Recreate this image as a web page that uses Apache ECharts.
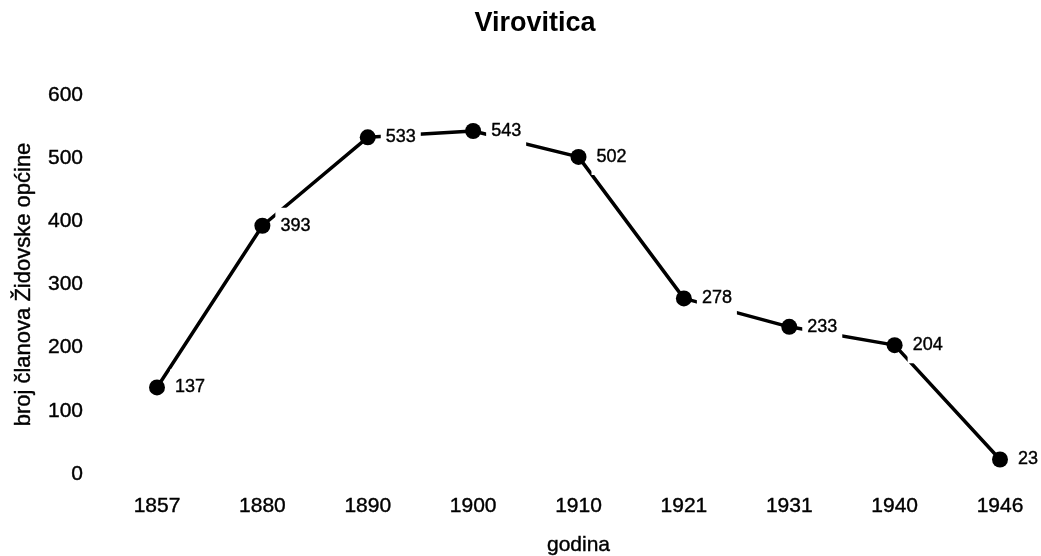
<!DOCTYPE html>
<html>
<head>
<meta charset="utf-8">
<script src="https://cdn.jsdelivr.net/npm/echarts@6/dist/echarts.min.js"></script>
<style>
  html, body { margin: 0; padding: 0; background: #fff; }
  #chart { width: 1041px; height: 556px; }
</style>
</head>
<body>
<div id="chart"></div>
<script>
// Membership of the Jewish community of Virovitica by year
const years = ['1857', '1880', '1890', '1900', '1910', '1921', '1931', '1940', '1946'];
const members = [137, 393, 533, 543, 502, 278, 233, 204, 23];
const yTicks = [0, 100, 200, 300, 400, 500, 600];

const font = '"Liberation Sans", Arial, sans-serif';
// a thin stroke around glyphs gives the heavier print weight
const ink = { color: '#000', textBorderColor: '#000', textBorderWidth: 0.4 };
const chart = echarts.init(document.getElementById('chart'));

chart.setOption({
  backgroundColor: '#ffffff',
  animation: false,
  title: {
    text: 'Virovitica',
    left: 530,
    top: 5,
    textAlign: 'center',
    textStyle: { fontFamily: font, fontSize: 27, fontWeight: 'bold', color: '#000' }
  },
  grid: { left: 157, right: 41, top: 95, bottom: 82, containLabel: false, outerBoundsMode: 'none' },
  xAxis: {
    type: 'category',
    data: years,
    boundaryGap: false,
    name: 'godina',
    nameLocation: 'middle',
    nameGap: 61,
    nameTextStyle: Object.assign({ fontFamily: font, fontSize: 21 }, ink),
    axisLine: { show: false },
    axisTick: { show: false },
    axisLabel: Object.assign({ fontFamily: font, fontSize: 21, margin: 22 }, ink)
  },
  yAxis: {
    type: 'value',
    min: yTicks[0],
    max: yTicks[yTicks.length - 1],
    interval: 100,
    name: 'broj članova Židovske općine',
    nameLocation: 'middle',
    nameGap: 122,
    nameTextStyle: Object.assign({ fontFamily: font, fontSize: 22 }, ink),
    axisLine: { show: false },
    axisTick: { show: false },
    splitLine: { show: false },
    axisLabel: Object.assign({ fontFamily: font, fontSize: 21, margin: 74 }, ink)
  },
  series: [{
    type: 'line',
    data: members,
    symbol: 'circle',
    symbolSize: 16,
    lineStyle: { color: '#000', width: 3.5 },
    itemStyle: { color: '#000' },
    // white label boxes break the line around each value
    label: Object.assign({
      show: true,
      position: 'right',
      distance: 5,
      fontFamily: font,
      fontSize: 18,
      backgroundColor: '#fff',
      padding: [8, 5, 10, 5]
    }, ink)
  }]
});
</script>
</body>
</html>
